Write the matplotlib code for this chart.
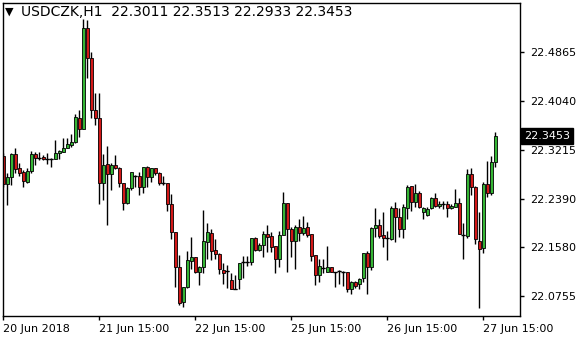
import matplotlib
matplotlib.use("Agg")
import matplotlib.pyplot as plt

# USDCZK H1 bars
opens = [22.3114, 22.2643, 22.2765, 22.3143, 22.2907, 22.2840, 22.2681, 22.2866, 22.3143, 22.3072,
         22.3097, 22.3058, 22.3058, 22.3058, 22.3170, 22.3186, 22.3254, 22.3299, 22.3345, 22.3749,
         22.3564, 22.5264, 22.4759, 22.3888, 22.3749, 22.2664, 22.2979, 22.2806, 22.2962, 22.2907,
         22.2654, 22.2328, 22.2570, 22.2782, 22.2777, 22.2597, 22.2934, 22.2765, 22.2907, 22.2823,
         22.2664, 22.2654, 22.2306, 22.1829, 22.1250, 22.0661, 22.0903, 22.1351, 22.1408, 22.1166,
         22.1250, 22.1671, 22.1812, 22.1531, 22.1459, 22.1195, 22.1183, 22.1026, 22.0870, 22.1038,
         22.1334, 22.1334, 22.1334, 22.1728, 22.1531, 22.1610, 22.1796, 22.1767, 22.1599, 22.1375,
         22.1784, 22.2318, 22.1880, 22.1688, 22.1914, 22.1823, 22.1914, 22.1796, 22.1442, 22.1110,
         22.1223, 22.1166, 22.1240, 22.1166, 22.1178, 22.1166, 22.1166, 22.0870, 22.0998, 22.0954,
         22.1055, 22.1476, 22.1250, 22.1907, 22.1952, 22.1784, 22.1738, 22.1711, 22.2233, 22.2082,
         22.1880, 22.2233, 22.2614, 22.2334, 22.2486, 22.2176, 22.2121, 22.2233, 22.2412, 22.2277,
         22.2301, 22.2301, 22.2233, 22.2260, 22.2328, 22.1779, 22.1772, 22.2811, 22.2597, 22.1688,
         22.1560, 22.2643, 22.2486, 22.3011]
highs = [22.3170, 22.2823, 22.3159, 22.3254, 22.3001, 22.2878, 22.2907, 22.3203, 22.3186, 22.3186,
         22.3126, 22.3170, 22.3085, 22.3383, 22.3215, 22.3412, 22.3412, 22.3484, 22.3821, 22.3888,
         22.5416, 22.5404, 22.4870, 22.4170, 22.4180, 22.3148, 22.3282, 22.3001, 22.3131, 22.2934,
         22.2664, 22.2587, 22.2840, 22.2794, 22.2850, 22.2934, 22.2946, 22.2907, 22.2907, 22.2840,
         22.2777, 22.2664, 22.2474, 22.1829, 22.1447, 22.0913, 22.1520, 22.1745, 22.1408, 22.1262,
         22.2205, 22.1981, 22.1880, 22.1711, 22.1476, 22.1317, 22.1279, 22.1149, 22.1110, 22.1317,
         22.1430, 22.1430, 22.1728, 22.1755, 22.1654, 22.1856, 22.1952, 22.1839, 22.1599, 22.1856,
         22.2513, 22.2318, 22.1914, 22.1952, 22.2048, 22.2104, 22.2008, 22.1796, 22.1442, 22.1375,
         22.1375, 22.1599, 22.1240, 22.1166, 22.1195, 22.1178, 22.1166, 22.1014, 22.1014, 22.1065,
         22.1476, 22.1520, 22.1924, 22.2233, 22.2048, 22.2176, 22.1851, 22.2272, 22.2334, 22.2233,
         22.2306, 22.2626, 22.2614, 22.2643, 22.2530, 22.2260, 22.2250, 22.2429, 22.2496, 22.2361,
         22.2361, 22.2361, 22.2306, 22.2558, 22.2402, 22.1991, 22.2890, 22.2907, 22.2609, 22.2176,
         22.2681, 22.3030, 22.3119, 22.3513]
lows = [22.2592, 22.2289, 22.2626, 22.2823, 22.2782, 22.2597, 22.2664, 22.2833, 22.2962, 22.3047,
        22.3047, 22.2979, 22.2934, 22.3058, 22.3058, 22.3186, 22.3244, 22.3260, 22.3328, 22.3439,
        22.3564, 22.4422, 22.3749, 22.3636, 22.2306, 22.2373, 22.1952, 22.2542, 22.2890, 22.2587,
        22.2205, 22.2306, 22.2542, 22.2597, 22.2457, 22.2486, 22.2597, 22.2681, 22.2794, 22.2626,
        22.2626, 22.2193, 22.1717, 22.0913, 22.0605, 22.0577, 22.0886, 22.1206, 22.1139, 22.0942,
        22.1149, 22.1375, 22.1363, 22.1375, 22.1127, 22.0959, 22.0886, 22.0870, 22.0870, 22.0870,
        22.1055, 22.1262, 22.1279, 22.1520, 22.1520, 22.1408, 22.1503, 22.1503, 22.1149, 22.1250,
        22.1784, 22.1166, 22.1408, 22.1206, 22.1688, 22.1784, 22.1755, 22.1351, 22.0942, 22.0998,
        22.1139, 22.1166, 22.1166, 22.0913, 22.0959, 22.0925, 22.0829, 22.0790, 22.0886, 22.0870,
        22.0998, 22.0785, 22.1195, 22.1755, 22.1728, 22.1577, 22.1363, 22.1700, 22.1671, 22.1745,
        22.1728, 22.2048, 22.2193, 22.2260, 22.2233, 22.2048, 22.2104, 22.2217, 22.2260, 22.2233,
        22.2222, 22.2082, 22.2222, 22.2260, 22.1796, 22.1375, 22.1738, 22.2457, 22.1632, 22.0550,
        22.1486, 22.2429, 22.2457, 22.2933]
closes = [22.2643, 22.2765, 22.3143, 22.2895, 22.2833, 22.2698, 22.2866, 22.3143, 22.3085, 22.3072,
          22.3063, 22.3058, 22.3058, 22.3170, 22.3198, 22.3244, 22.3311, 22.3355, 22.3766, 22.3564,
          22.5264, 22.4769, 22.3888, 22.3749, 22.2664, 22.2962, 22.2806, 22.2962, 22.2907, 22.2654,
          22.2328, 22.2570, 22.2840, 22.2782, 22.2587, 22.2924, 22.2765, 22.2907, 22.2823, 22.2664,
          22.2664, 22.2306, 22.1829, 22.1240, 22.0634, 22.0903, 22.1363, 22.1408, 22.1166, 22.1250,
          22.1688, 22.1839, 22.1520, 22.1459, 22.1206, 22.1149, 22.1183, 22.0870, 22.0870, 22.1317,
          22.1334, 22.1334, 22.1728, 22.1531, 22.1610, 22.1796, 22.1745, 22.1587, 22.1375, 22.1784,
          22.2318, 22.1880, 22.1688, 22.1914, 22.1823, 22.1897, 22.1784, 22.1430, 22.1110, 22.1262,
          22.1223, 22.1240, 22.1166, 22.1166, 22.1178, 22.1166, 22.0870, 22.0998, 22.0925, 22.1038,
          22.1476, 22.1250, 22.1897, 22.1952, 22.1767, 22.1738, 22.1738, 22.2233, 22.2082, 22.1880,
          22.2250, 22.2597, 22.2345, 22.2486, 22.2260, 22.2233, 22.2222, 22.2412, 22.2277, 22.2306,
          22.2301, 22.2233, 22.2272, 22.2328, 22.1796, 22.1779, 22.2811, 22.2587, 22.1711, 22.1543,
          22.2643, 22.2486, 22.3011, 22.3453]

price_ticks = [22.4865, 22.4040, 22.3215, 22.2390, 22.1580, 22.0755]
date_ticks = [0, 24, 48, 72, 96, 120]
date_labels = ["20 Jun 2018", "21 Jun 15:00", "22 Jun 15:00", "25 Jun 15:00", "26 Jun 15:00", "27 Jun 15:00"]
header = "USDCZK,H1  22.3011 22.3513 22.2933 22.3453"
last_price = closes[-1]

W, H = 580, 340
fig = plt.figure(figsize=(W / 100, H / 100), dpi=100)
ax = fig.add_axes([2.5 / W, 1 - 316 / H, 517.5 / W, 313 / H])

x = list(range(len(opens)))
up_col = "#35b535"
dn_col = "#d21818"

# wicks first, bodies on top
ax.vlines(x, lows, highs, color="black", linewidth=1.0, zorder=1)
bottoms = [min(o, c) for o, c in zip(opens, closes)]
heights = [abs(c - o) for o, c in zip(opens, closes)]
colors = [up_col if c > o else dn_col for o, c in zip(opens, closes)]
ax.bar(x, heights, bottom=bottoms, width=0.75, color=colors,
       edgecolor="black", linewidth=0.6, zorder=2)
# flat bars (open == close) as a short dash
flat = [i for i in x if opens[i] == closes[i]]
ax.hlines([opens[i] for i in flat], [i - 0.45 for i in flat], [i + 0.45 for i in flat],
          color="black", linewidth=1.0, zorder=3)

ax.set_xlim(-0.2, 129.2)
ax.set_ylim(22.0420, 22.5690)

for s in ax.spines.values():
    s.set_linewidth(1.0)
    s.set_color("black")

ax.yaxis.tick_right()
ax.set_yticks(price_ticks)
ax.set_yticklabels([f"{p:.4f}" for p in price_ticks], fontsize=8)
ax.tick_params(axis="y", direction="out", length=3, width=1, pad=4, colors="black")

ax.set_xticks(date_ticks)
ax.set_xticklabels(date_labels, fontsize=8, ha="left")
ax.tick_params(axis="x", direction="out", length=3, width=1, pad=3, colors="black")

# current price box on the right scale
ax.annotate(f"{last_price:.4f}", xy=(1, last_price), xycoords=("axes fraction", "data"),
            xytext=(3, 0), textcoords="offset points", va="center", ha="left",
            fontsize=8, color="white",
            bbox=dict(boxstyle="square,pad=0.25", fc="black", ec="black"))

fig.text(5 / W, 1 - 12 / H, "\u25bc", fontsize=8, va="center", ha="left", color="black")
fig.text(21 / W, 1 - 12 / H, header, fontsize=10, va="center", ha="left", color="black")

fig.savefig("out.png", dpi=100)
